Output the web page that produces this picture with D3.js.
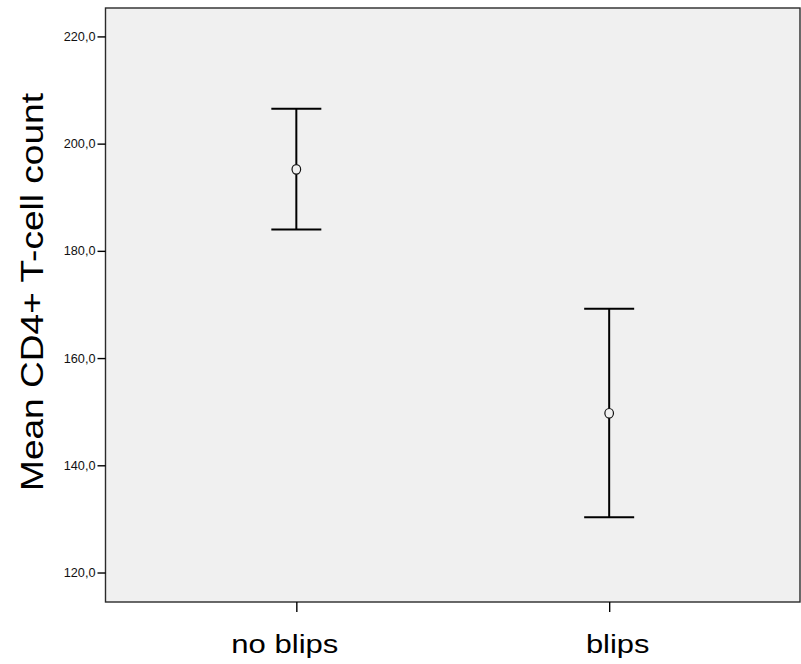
<!DOCTYPE html>
<html>
<head>
<meta charset="utf-8">
<script src="https://cdn.jsdelivr.net/npm/d3@7"></script>
<style>
  html, body { margin: 0; padding: 0; background: #fff; }
  svg { display: block; font-family: "Liberation Sans", Arial, sans-serif; }
</style>
</head>
<body>
<svg id="chart" width="801" height="664"></svg>
<script>
// Group labels and mean CD4+ counts with 95% CI bounds
const groups = ["no blips", "blips"];
const means = [195.2, 149.7];
const ciLower = [184.0, 130.3];
const ciUpper = [206.5, 169.2];
const yTicks = [120, 140, 160, 180, 200, 220];
const yTitle = "Mean CD4+ T-cell count";

const svg = d3.select("#chart");
const plot = { left: 105.5, top: 8, right: 800, bottom: 602 };

const x = d3.scalePoint()
  .domain(groups)
  .range([plot.left, plot.right])
  .padding(0.61);

const y = d3.scaleLinear()
  .domain([114.5, 225.3])
  .range([plot.bottom, plot.top]);

// Plot background and frame
svg.append("rect")
  .attr("x", plot.left).attr("y", plot.top)
  .attr("width", plot.right - plot.left)
  .attr("height", plot.bottom - plot.top)
  .attr("fill", "#f0f0f0")
  .attr("stroke", "#2a2a2a")
  .attr("stroke-width", 1.4);

// Y axis
const yAxis = svg.append("g")
  .attr("transform", `translate(${plot.left},0)`)
  .call(d3.axisLeft(y).tickValues(yTicks).tickSize(8).tickPadding(2)
    .tickFormat(d => d3.format(".1f")(d).replace(".", ",")));
yAxis.select(".domain").remove();
yAxis.selectAll(".tick line").attr("stroke", "#000").attr("stroke-width", 1.4);
yAxis.selectAll(".tick text")
  .attr("fill", "#111")
  .style("font-size", "12.7px");

// X axis
const xAxis = svg.append("g")
  .attr("transform", `translate(0,${plot.bottom})`)
  .call(d3.axisBottom(x).tickSize(10).tickFormat(""));
xAxis.select(".domain").remove();
xAxis.selectAll(".tick line").attr("stroke", "#000").attr("stroke-width", 1.4);

// Category labels (wide, slightly offset from the ticks)
const labelShift = { "no blips": -11.5, "blips": 8.5 };
const labelWidth = { "no blips": 107, "blips": 63.5 };
svg.append("g").selectAll("text")
  .data(groups)
  .join("text")
  .attr("x", d => x(d) + labelShift[d])
  .attr("y", 653.3)
  .attr("text-anchor", "middle")
  .attr("fill", "#000")
  .style("font-size", "25px")
  .attr("textLength", d => labelWidth[d])
  .attr("lengthAdjust", "spacingAndGlyphs")
  .text(d => d);

// Y axis title
svg.append("text")
  .attr("transform", `translate(42.7,${(93 + 491) / 2}) rotate(-90)`)
  .attr("text-anchor", "middle")
  .attr("fill", "#000")
  .style("font-size", "31px")
  .attr("textLength", 398)
  .attr("lengthAdjust", "spacingAndGlyphs")
  .text(yTitle);

// Error bars with caps and mean markers
const capHalf = 25;
const bars = svg.append("g").selectAll("g")
  .data(groups.map((g, i) => ({ g, m: means[i], lo: ciLower[i], hi: ciUpper[i] })))
  .join("g");

bars.append("line")
  .attr("x1", d => x(d.g)).attr("x2", d => x(d.g))
  .attr("y1", d => y(d.hi)).attr("y2", d => y(d.lo))
  .attr("stroke", "#000").attr("stroke-width", 2);

bars.append("line")
  .attr("x1", d => x(d.g) - capHalf).attr("x2", d => x(d.g) + capHalf)
  .attr("y1", d => y(d.hi)).attr("y2", d => y(d.hi))
  .attr("stroke", "#000").attr("stroke-width", 2);

bars.append("line")
  .attr("x1", d => x(d.g) - capHalf).attr("x2", d => x(d.g) + capHalf)
  .attr("y1", d => y(d.lo)).attr("y2", d => y(d.lo))
  .attr("stroke", "#000").attr("stroke-width", 2);

bars.append("ellipse")
  .attr("cx", d => x(d.g)).attr("cy", d => y(d.m))
  .attr("rx", 4.3).attr("ry", 4.8)
  .attr("fill", "#f0f0f0")
  .attr("stroke", "#111").attr("stroke-width", 1.2);
</script>
</body>
</html>
